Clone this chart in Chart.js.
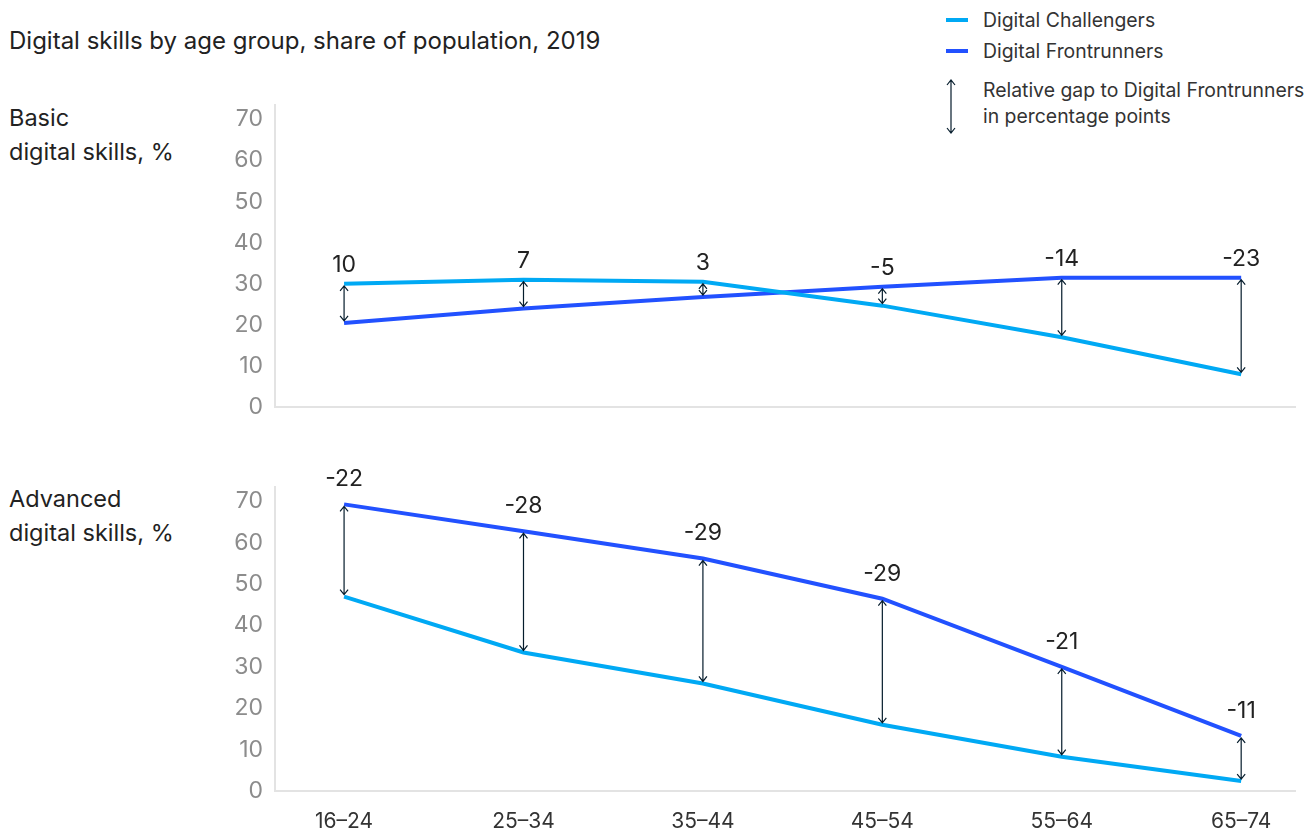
<!DOCTYPE html>
<html>
<head>
<meta charset="utf-8">
<title>Digital skills by age group</title>
<script src="https://cdn.jsdelivr.net/npm/chart.js@4"></script>
<style>
	body { margin: 0; background: #fff; font-family: "Inter", sans-serif; color: #222; }
	#wrap { position: relative; width: 1314px; height: 831px; overflow: hidden; }
	.txt { position: absolute; white-space: nowrap; font-size: 23.5px; line-height: 34px; color: #222; }
	.leg { position: absolute; font-size: 19.4px; color: #333; white-space: nowrap; line-height: 26px; }
	.swatch { position: absolute; width: 22px; height: 4px; }
	canvas { position: absolute; left: 0; }
</style>
</head>
<body>
<div id="wrap">
	<div class="txt" style="left:9px; top:24px; font-size:24px;">Digital skills by age group, share of population, 2019</div>
	<div class="txt" style="left:9px; top:101px;">Basic<br>digital skills, %</div>
	<div class="txt" style="left:9px; top:482px;">Advanced<br>digital skills, %</div>

	<div class="swatch" style="left:946px; top:18px; background:#00a9f4;"></div>
	<div class="leg" style="left:983px; top:7px;">Digital Challengers</div>
	<div class="swatch" style="left:946px; top:49px; background:#2251ff;"></div>
	<div class="leg" style="left:983px; top:38px;">Digital Frontrunners</div>
	<svg style="position:absolute; left:944px; top:78px;" width="16" height="58">
		<path d="M7 2 L7 55 M3 7 L7 2 L11 7 M3 50 L7 55 L11 50" stroke="#051c2c" stroke-width="1.2" fill="none"/>
	</svg>
	<div class="leg" style="left:983px; top:77px;">Relative gap to Digital Frontrunners<br>in percentage points</div>

	<canvas id="basicChart" style="top:0px;" width="1314" height="433"></canvas>
	<canvas id="advancedChart" style="top:420px;" width="1314" height="411"></canvas>
</div>

<script>
// age groups along the x axis
const ageGroups = ['16\u201324', '25\u201334', '35\u201344', '45\u201354', '55\u201364', '65\u201374'];
const yTicks = [0, 10, 20, 30, 40, 50, 60, 70];

// basic digital skills, %
const basicChallengers = [30, 31, 30.5, 24.7, 17, 8];
const basicFrontrunners = [20.5, 24, 26.8, 29.3, 31.5, 31.5];
const basicGap = ['10', '7', '3', '-5', '-14', '-23'];

// advanced digital skills, %
const advChallengers = [47, 33.5, 26, 16, 8.3, 2.4];
const advFrontrunners = [69.3, 62.8, 56.2, 46.5, 30, 13.3];
const advGap = ['-22', '-28', '-29', '-29', '-21', '-11'];

const colChallengers = '#00a9f4';
const colFrontrunners = '#2251ff';
const colArrow = '#051c2c';
const FONT = 'Inter, sans-serif';

// draws the double arrows between the two lines + the gap value on top
const gapPlugin = {
	id: 'gapArrows',
	afterDatasetsDraw(chart, args, opts) {
		const ctx = chart.ctx;
		const xs = chart.scales.x;
		const ys = chart.scales.y;
		const a = chart.data.datasets[0].data;
		const b = chart.data.datasets[1].data;

		ctx.save();
		ctx.strokeStyle = colArrow;
		ctx.lineWidth = 1.2;
		for (let i = 0; i < a.length; i++) {
			const x = xs.getPixelForValue(i);
			const y1 = ys.getPixelForValue(Math.max(a[i].y, b[i].y));
			const y2 = ys.getPixelForValue(Math.min(a[i].y, b[i].y));
			const top = y1 + 2, bot = y2 - 2;

			ctx.beginPath();
			ctx.moveTo(x, top);
			ctx.lineTo(x, bot);
			ctx.moveTo(x - 4, top + 5);
			ctx.lineTo(x, top);
			ctx.lineTo(x + 4, top + 5);
			ctx.moveTo(x - 4, bot - 5);
			ctx.lineTo(x, bot);
			ctx.lineTo(x + 4, bot - 5);
			ctx.stroke();

			ctx.fillStyle = '#222';
			ctx.font = '23px ' + FONT;
			ctx.textAlign = 'center';
			ctx.textBaseline = 'middle';
			ctx.fillText(opts.labels[i], x, y1 - opts.offset);
		}
		ctx.restore();
	}
};

function puntos(valores) {
	return valores.map((v, i) => ({ x: i, y: v }));
}

function crearGrafico(idCanvas, challengers, frontrunners, gap, conEtiquetas, padTop, labelOffset, xHeight) {
	const ctx = document.getElementById(idCanvas).getContext('2d');
	return new Chart(ctx, {
		type: 'line',
		data: {
			datasets: [
				{
					label: 'Digital Challengers',
					data: puntos(challengers),
					borderColor: colChallengers,
					borderWidth: 4,
					pointRadius: 0,
					tension: 0
				},
				{
					label: 'Digital Frontrunners',
					data: puntos(frontrunners),
					borderColor: colFrontrunners,
					borderWidth: 4,
					pointRadius: 0,
					tension: 0
				}
			]
		},
		options: {
			responsive: false,
			animation: false,
			events: [],
			layout: { padding: { top: padTop, right: 19, left: 0, bottom: 0 } },
			plugins: {
				legend: { display: false },
				tooltip: { enabled: false },
				gapArrows: { labels: gap, offset: labelOffset }
			},
			scales: {
				x: {
					type: 'linear',
					min: -0.385,
					max: 5.3,
					afterBuildTicks: (s) => { s.ticks = ageGroups.map((g, i) => ({ value: i })); },
					afterFit: (s) => { s.height = xHeight; },
					grid: { display: false, drawTicks: false },
					border: { color: '#e3e3e3', width: 2 },
					ticks: {
						display: conEtiquetas,
						padding: 18,
						color: '#333',
						font: { family: FONT, size: 21 },
						callback: (v) => ageGroups[v]
					}
				},
				y: {
					min: 0,
					max: 73.5,
					afterBuildTicks: (s) => { s.ticks = yTicks.map(v => ({ value: v })); },
					afterFit: (s) => { s.width = 275; },
					grid: { display: false, drawTicks: false },
					border: { color: '#e3e3e3', width: 2 },
					ticks: {
						padding: 12,
						color: '#8c8c8c',
						font: { family: FONT, size: 23 }
					}
				}
			}
		},
		plugins: [gapPlugin]
	});
}

crearGrafico('basicChart', basicChallengers, basicFrontrunners, basicGap, false, 105, 19, 10);
crearGrafico('advancedChart', advChallengers, advFrontrunners, advGap, true, 67, 25, 40);
</script>
</body>
</html>
